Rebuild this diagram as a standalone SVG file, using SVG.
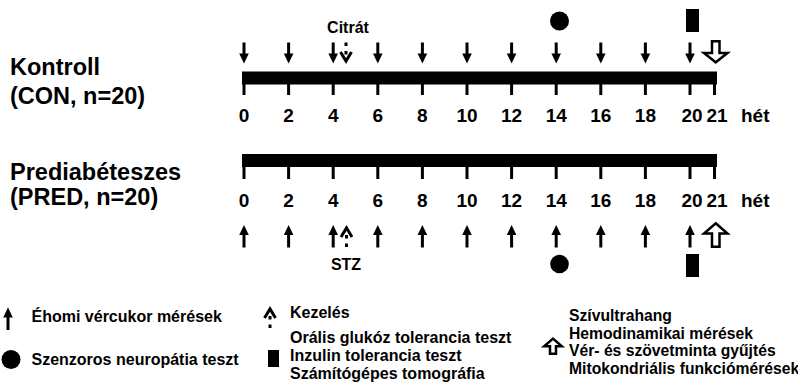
<svg xmlns="http://www.w3.org/2000/svg" xmlns:xlink="http://www.w3.org/1999/xlink" width="798" height="382" viewBox="0 0 798 382">
  <style>
    text { font-family: "Liberation Sans", Arial, sans-serif; font-weight: bold; fill: #000; }
    .group { font-size: 23.5px; }
    .num { font-size: 19px; text-anchor: middle; }
    .unit { font-size: 19px; }
    .tag { font-size: 16px; text-anchor: middle; }
    .leg { font-size: 16px; }
    .leg-r { font-size: 15.7px; }
    .bar { fill: #000; }
    .tick { stroke: #000; stroke-width: 3; }
    .hollow { fill: #fff; stroke: #000; stroke-width: 2.5; stroke-linejoin: miter; }
    .dash { stroke: #000; stroke-width: 3; stroke-dasharray: 3.5 5; fill: none; }
    .chev { stroke: #000; stroke-width: 3; fill: none; stroke-linejoin: miter; }
    .mark { fill: #000; }
  </style>
  <defs>
    <!-- solid arrow pointing down: shaft top at 0, tip at 21 -->
    <g id="arrowDown">
      <rect x="-1.5" y="0" width="3" height="12" fill="#000"/>
      <polygon points="-4.8,11 4.8,11 0,21" fill="#000"/>
    </g>
    <!-- solid arrow pointing up: tip at 0, shaft bottom at 22.5 -->
    <g id="arrowUp">
      <polygon points="0,0 -4.8,10 4.8,10" fill="#000"/>
      <rect x="-1.5" y="9" width="3" height="13.5" fill="#000"/>
    </g>
    <!-- dashed treatment arrow pointing down: top at 0, tip at ~21 -->
    <g id="dashDown">
      <line class="dash" x1="0" y1="0" x2="0" y2="12"/>
      <polyline class="chev" points="-5.5,9.5 0,18.5 5.5,9.5"/>
    </g>
    <!-- dashed treatment arrow pointing up: tip at ~0, bottom at 22 -->
    <g id="dashUp">
      <line class="dash" x1="0" y1="22" x2="0" y2="10"/>
      <polyline class="chev" points="-5.5,12 0,3 5.5,12"/>
    </g>
  </defs>

  <!-- group labels -->
  <g id="label-con">
    <text class="group" x="10" y="75">Kontroll</text>
    <text class="group" x="10" y="104.3">(CON, n=20)</text>
  </g>
  <g id="label-pred">
    <text class="group" x="10" y="179.5">Prediabéteszes</text>
    <text class="group" x="10" y="205">(PRED, n=20)</text>
  </g>

  <!-- control timeline -->
  <g id="timeline-con">
    <rect class="bar" x="242" y="71.5" width="475" height="13"/>
    <g class="tick">
      <line x1="244" y1="84" x2="244" y2="95"/>
      <line x1="288.6" y1="84" x2="288.6" y2="95"/>
      <line x1="333.2" y1="84" x2="333.2" y2="95"/>
      <line x1="377.8" y1="84" x2="377.8" y2="95"/>
      <line x1="422.4" y1="84" x2="422.4" y2="95"/>
      <line x1="467" y1="84" x2="467" y2="95"/>
      <line x1="511.6" y1="84" x2="511.6" y2="95"/>
      <line x1="556.2" y1="84" x2="556.2" y2="95"/>
      <line x1="600.8" y1="84" x2="600.8" y2="95"/>
      <line x1="645.4" y1="84" x2="645.4" y2="95"/>
      <line x1="690" y1="84" x2="690" y2="95"/>
      <line x1="714.5" y1="84" x2="714.5" y2="95"/>
    </g>
    <g>
      <text class="num" x="244" y="121.5">0</text>
      <text class="num" x="288.6" y="121.5">2</text>
      <text class="num" x="333.2" y="121.5">4</text>
      <text class="num" x="377.8" y="121.5">6</text>
      <text class="num" x="422.4" y="121.5">8</text>
      <text class="num" x="467" y="121.5">10</text>
      <text class="num" x="511.6" y="121.5">12</text>
      <text class="num" x="556.2" y="121.5">14</text>
      <text class="num" x="600.8" y="121.5">16</text>
      <text class="num" x="645.4" y="121.5">18</text>
      <text class="num" x="692" y="121.5">20</text>
      <text class="num" x="717" y="121.5">21</text>
      <text class="unit" x="741" y="121.5">hét</text>
    </g>
  </g>

  <!-- prediabetic timeline -->
  <g id="timeline-pred">
    <rect class="bar" x="242" y="154" width="475" height="13"/>
    <g class="tick">
      <line x1="244" y1="166" x2="244" y2="179"/>
      <line x1="288.6" y1="166" x2="288.6" y2="179"/>
      <line x1="333.2" y1="166" x2="333.2" y2="179"/>
      <line x1="377.8" y1="166" x2="377.8" y2="179"/>
      <line x1="422.4" y1="166" x2="422.4" y2="179"/>
      <line x1="467" y1="166" x2="467" y2="179"/>
      <line x1="511.6" y1="166" x2="511.6" y2="179"/>
      <line x1="556.2" y1="166" x2="556.2" y2="179"/>
      <line x1="600.8" y1="166" x2="600.8" y2="179"/>
      <line x1="645.4" y1="166" x2="645.4" y2="179"/>
      <line x1="690" y1="166" x2="690" y2="179"/>
      <line x1="714.5" y1="166" x2="714.5" y2="179"/>
    </g>
    <g>
      <text class="num" x="244" y="206.5">0</text>
      <text class="num" x="288.6" y="206.5">2</text>
      <text class="num" x="333.2" y="206.5">4</text>
      <text class="num" x="377.8" y="206.5">6</text>
      <text class="num" x="422.4" y="206.5">8</text>
      <text class="num" x="467" y="206.5">10</text>
      <text class="num" x="511.6" y="206.5">12</text>
      <text class="num" x="556.2" y="206.5">14</text>
      <text class="num" x="600.8" y="206.5">16</text>
      <text class="num" x="645.4" y="206.5">18</text>
      <text class="num" x="692" y="206.5">20</text>
      <text class="num" x="717" y="206.5">21</text>
      <text class="unit" x="741" y="206.5">hét</text>
    </g>
  </g>

  <!-- markers above the control timeline -->
  <g id="events-con">
    <use xlink:href="#arrowDown" x="244" y="42.5"/>
    <use xlink:href="#arrowDown" x="288.6" y="42.5"/>
    <use xlink:href="#arrowDown" x="333.2" y="42.5"/>
    <use xlink:href="#arrowDown" x="377.8" y="42.5"/>
    <use xlink:href="#arrowDown" x="422.4" y="42.5"/>
    <use xlink:href="#arrowDown" x="467" y="42.5"/>
    <use xlink:href="#arrowDown" x="511.6" y="42.5"/>
    <use xlink:href="#arrowDown" x="556.2" y="42.5"/>
    <use xlink:href="#arrowDown" x="600.8" y="42.5"/>
    <use xlink:href="#arrowDown" x="645.4" y="42.5"/>
    <use xlink:href="#arrowDown" x="690" y="42.5"/>
    <use xlink:href="#dashDown" x="346" y="42.5"/>
    <text class="tag" x="348" y="33.3">Citrát</text>
    <circle class="mark" cx="559.5" cy="21" r="9.5"/>
    <rect class="mark" x="686" y="9" width="13" height="23"/>
    <path class="hollow" d="M712,41.3 H719.5 V53 H727.5 L715.7,62.3 L704,53 H712 Z"/>
  </g>

  <!-- markers below the prediabetic timeline -->
  <g id="events-pred">
    <use xlink:href="#arrowUp" x="244" y="225"/>
    <use xlink:href="#arrowUp" x="288.6" y="225"/>
    <use xlink:href="#arrowUp" x="333.2" y="225"/>
    <use xlink:href="#arrowUp" x="377.8" y="225"/>
    <use xlink:href="#arrowUp" x="422.4" y="225"/>
    <use xlink:href="#arrowUp" x="467" y="225"/>
    <use xlink:href="#arrowUp" x="511.6" y="225"/>
    <use xlink:href="#arrowUp" x="556.2" y="225"/>
    <use xlink:href="#arrowUp" x="600.8" y="225"/>
    <use xlink:href="#arrowUp" x="645.4" y="225"/>
    <use xlink:href="#arrowUp" x="690" y="225"/>
    <use xlink:href="#dashUp" x="346.5" y="225"/>
    <text class="tag" x="346" y="270">STZ</text>
    <circle class="mark" cx="559.5" cy="264" r="9.3"/>
    <rect class="mark" x="686" y="254" width="13" height="23"/>
    <path class="hollow" d="M715.7,223.3 L727.5,233.5 H719.5 V246.8 H712 V233.5 H704 Z"/>
  </g>

  <!-- legend -->
  <g id="legend-glucose">
    <use xlink:href="#arrowUp" x="8" y="307.5"/>
    <text class="leg" x="31.5" y="322">Éhomi vércukor mérések</text>
  </g>
  <g id="legend-neuropathy">
    <circle class="mark" cx="11" cy="359.5" r="9.5"/>
    <text class="leg" x="31.5" y="365">Szenzoros neuropátia teszt</text>
  </g>
  <g id="legend-treatment">
    <use xlink:href="#dashUp" x="270" y="306"/>
    <text class="leg" x="290" y="317.5">Kezelés</text>
  </g>
  <g id="legend-tolerance">
    <rect class="mark" x="268" y="350" width="11" height="17"/>
    <text class="leg" x="290" y="342.5">Orális glukóz tolerancia teszt</text>
    <text class="leg" x="290" y="360.5">Inzulin tolerancia teszt</text>
    <text class="leg" x="290" y="378.5">Számítógépes tomográfia</text>
  </g>
  <g id="legend-endpoint">
    <path class="hollow" d="M553,338.6 L561.8,346.2 H556 V353.8 H550 V346.2 H544.2 Z"/>
    <text class="leg-r" x="569" y="321">Szívultrahang</text>
    <text class="leg-r" x="569" y="338.5">Hemodinamikai mérések</text>
    <text class="leg-r" x="569" y="356">Vér- és szövetminta gyűjtés</text>
    <text class="leg-r" x="569" y="373.5">Mitokondriális funkciómérések</text>
  </g>
</svg>
